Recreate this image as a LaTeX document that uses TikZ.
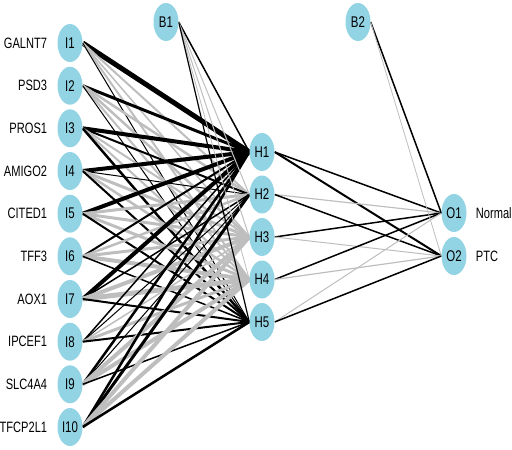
\documentclass[tikz,border=0pt]{standalone}
\usepackage{fontspec}
\usepackage{graphicx}
\setmainfont{Liberation Sans}
\usetikzlibrary{shapes.geometric}
\definecolor{nodefill}{RGB}{147,212,228}
\definecolor{ngray}{RGB}{190,190,190}
\newcommand{\sqz}[1]{\scalebox{0.74}[1]{#1}}
\tikzset{
  neuron/.style={ellipse, fill=nodefill, draw=none, minimum width=25pt, minimum height=38pt, inner sep=0pt, font=\fontsize{15.5}{15.5}\selectfont},
  lbl/.style={font=\fontsize{15}{15}\selectfont, inner sep=0pt},
  poscon/.style={draw=black},
  negcon/.style={draw=ngray}
}
\begin{document}
\begin{tikzpicture}[x=1pt,y=-1pt]
\useasboundingbox (0,0) rectangle (512,450);
% node positions (drawn after connectors via coordinates)
\foreach \k/\y in {1/43,2/85.7,3/128.3,4/171,5/213.7,6/256.3,7/299,8/341.7,9/384.3,10/427}
  \path (70,\y) node[neuron, fill=none] (I\k) {};
\foreach \k/\y in {1/152,2/194.5,3/237,4/279.5,5/322}
  \path (262,\y) node[neuron, fill=none] (H\k) {};
\path (166,22) node[neuron, fill=none] (B1) {};
\path (358,22) node[neuron, fill=none] (B2) {};
\path (454,213) node[neuron, fill=none] (O1) {};
\path (454,256) node[neuron, fill=none] (O2) {};
% input -> hidden connectors
\foreach \i/\h/\s/\w in {
 1/1/poscon/5, 1/2/negcon/2, 1/3/negcon/1.5, 1/4/negcon/2, 1/5/poscon/1,
 2/1/poscon/3, 2/2/negcon/2.5, 2/3/negcon/2.5, 2/4/negcon/2, 2/5/poscon/1,
 3/1/poscon/4, 3/2/poscon/2, 3/3/negcon/2, 3/4/negcon/2, 3/5/poscon/2.5,
 4/1/poscon/4, 4/2/poscon/1, 4/3/negcon/3, 4/4/negcon/2.5, 4/5/poscon/2,
 5/1/poscon/4, 5/2/negcon/3, 5/3/negcon/3, 5/4/negcon/3, 5/5/poscon/2,
 6/1/poscon/2, 6/2/negcon/2.5, 6/3/negcon/3, 6/4/negcon/4, 6/5/poscon/1.5,
 7/1/poscon/4, 7/2/poscon/1.5, 7/3/negcon/4, 7/4/negcon/5, 7/5/poscon/2,
 8/1/poscon/1.5, 8/2/poscon/1, 8/3/negcon/1.5, 8/4/negcon/3, 8/5/poscon/2,
 9/1/poscon/2.5, 9/2/poscon/1, 9/3/negcon/4, 9/4/negcon/4, 9/5/poscon/1.5,
 10/1/poscon/2.5, 10/2/poscon/3, 10/3/negcon/4, 10/4/negcon/4, 10/5/poscon/2.5}
  \draw[\s, line width=\w pt] (I\i.east) -- (H\h.west);
% bias 1 -> hidden
\foreach \h/\s/\w in {1/poscon/1.5, 2/negcon/1, 3/negcon/1, 4/negcon/0.8, 5/poscon/1.2}
  \draw[\s, line width=\w pt] (B1.east) -- (H\h.west);
% hidden -> output
\foreach \h/\o/\s/\w in {1/1/poscon/1.5, 1/2/poscon/2, 2/1/negcon/1.2, 2/2/poscon/1.5,
 3/1/poscon/1.5, 3/2/negcon/1, 4/1/poscon/1.5, 4/2/negcon/1.2, 5/1/negcon/1, 5/2/poscon/1.5}
  \draw[\s, line width=\w pt] (H\h.east) -- (O\o.west);
\foreach \o/\s/\w in {1/poscon/1.5, 2/negcon/0.8}
  \draw[\s, line width=\w pt] (B2.east) -- (O\o.west);
% nodes on top
\foreach \k in {1,...,10}
  \node[neuron] at (I\k) {\sqz{I\k}};
\foreach \k in {1,...,5}
  \node[neuron] at (H\k) {\sqz{H\k}};
\node[neuron] at (B1) {\sqz{B1}};
\node[neuron] at (B2) {\sqz{B2}};
\node[neuron] at (O1) {\sqz{O1}};
\node[neuron] at (O2) {\sqz{O2}};
% labels
\foreach \k/\t in {1/GALNT7,2/PSD3,3/PROS1,4/AMIGO2,5/CITED1,6/TFF3,7/AOX1,8/IPCEF1,9/SLC4A4,10/TFCP2L1}
  \node[lbl, anchor=east] (L\k) at ([xshift=-10pt]I\k.west) {\sqz{\t}};
\node[lbl, anchor=west] (LN) at ([xshift=9pt]O1.east) {\sqz{Normal}};
\node[lbl, anchor=west] (LP) at ([xshift=9pt]O2.east) {\sqz{PTC}};
\end{tikzpicture}
\end{document}
